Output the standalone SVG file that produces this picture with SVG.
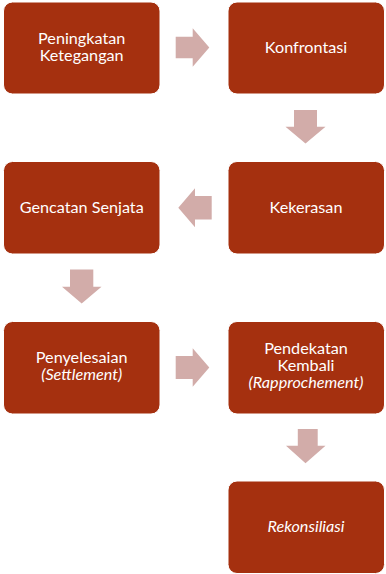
<svg xmlns="http://www.w3.org/2000/svg" width="386" height="574" viewBox="0 0 386 574">
<style>
.box{fill:#A5300F;stroke:#ffffff;stroke-width:1}
.arr{fill:#D2ACA9}
text{font-family:Lato,"DejaVu Sans","Liberation Sans",sans-serif;font-size:16.2px;fill:#ffffff;text-anchor:middle}
.it{font-style:italic}
</style>
<rect width="386" height="574" fill="#ffffff"/>
<g id="connectors">
<polygon class="arr" points="175.7,36.7 192.7,36.7 192.7,28.3 209.3,47.5 192.7,66.7 192.7,58.3 175.7,58.3"/>
<polygon class="arr" points="294,110 317,110 317,126.7 325.5,126.7 305.5,143.5 285.5,126.7 294,126.7"/>
<polygon class="arr" points="211.7,196 195,196 195,188.3 178.3,207.8 195,227.3 195,219.6 211.7,219.6"/>
<polygon class="arr" points="70,269.5 93.3,269.5 93.3,286.7 101.5,286.7 81.7,303.5 62,286.7 70,286.7"/>
<polygon class="arr" points="175.7,356 192.7,356 192.7,348.3 209.3,367.5 192.7,386.7 192.7,378.9 175.7,378.9"/>
<polygon class="arr" points="297.8,429 317.7,429 317.7,445.7 325.5,445.7 305.5,463.3 286,445.7 297.8,445.7"/>
</g>
<g id="n1"><rect class="box" x="3.5" y="2" width="156.5" height="92" rx="9"/><text x="81.7" y="44">Peningkatan<tspan x="81.7" dy="17">Ketegangan</tspan></text></g>
<g id="n2"><rect class="box" x="228" y="2" width="156.5" height="92" rx="9"/><text x="306" y="53.3">Konfrontasi</text></g>
<g id="n3"><rect class="box" x="228" y="161.5" width="156.5" height="92.5" rx="9"/><text x="306" y="213.3">Kekerasan</text></g>
<g id="n4"><rect class="box" x="3.5" y="161.5" width="156.5" height="92.5" rx="9"/><text x="81.7" y="213.3">Gencatan Senjata</text></g>
<g id="n5"><rect class="box" x="3.5" y="321.5" width="156.5" height="92.5" rx="9"/><text x="81.7" y="363">Penyelesaian<tspan class="it" x="81.7" dy="17">(Settlement)</tspan></text></g>
<g id="n6"><rect class="box" x="228" y="321.5" width="156.5" height="92.5" rx="9"/><text x="306" y="354">Pendekatan<tspan x="306" dy="17">Kembali</tspan><tspan class="it" x="306" dy="17">(Rapprochement)</tspan></text></g>
<g id="n7"><rect class="box" x="228" y="481" width="156.5" height="92.5" rx="9"/><text class="it" x="306" y="531.7">Rekonsiliasi</text></g>
</svg>
